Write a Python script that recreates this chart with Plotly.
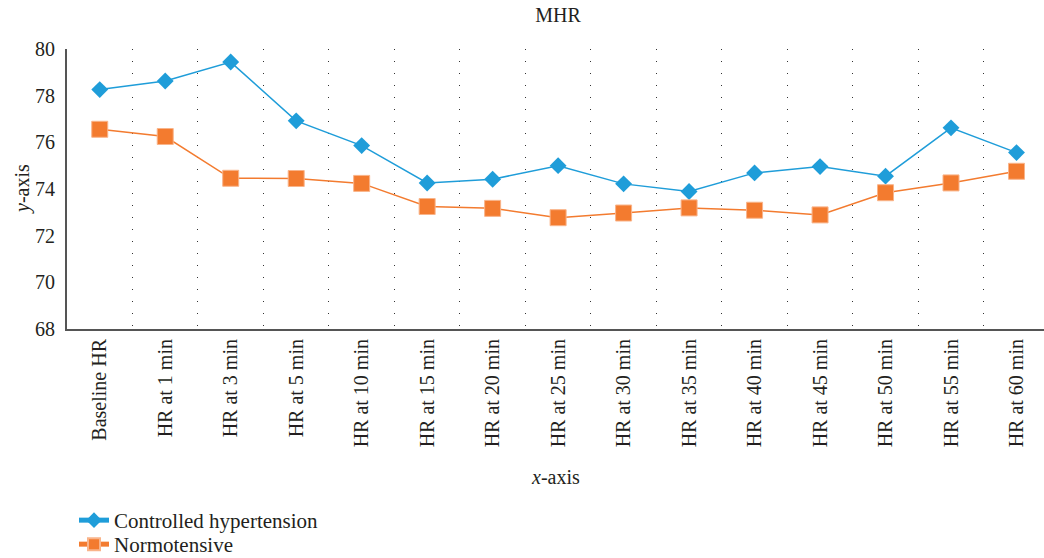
import plotly.graph_objects as go

categories = ["Baseline HR", "HR at 1 min", "HR at 3 min", "HR at 5 min", "HR at 10 min",
              "HR at 15 min", "HR at 20 min", "HR at 25 min", "HR at 30 min", "HR at 35 min",
              "HR at 40 min", "HR at 45 min", "HR at 50 min", "HR at 55 min", "HR at 60 min"]
controlled = [78.26, 78.63, 79.44, 76.92, 75.86, 74.26, 74.42, 75.0, 74.22, 73.89,
              74.69, 74.96, 74.55, 76.62, 75.56]
normotensive = [76.56, 76.25, 74.46, 74.45, 74.24, 73.25, 73.17, 72.77, 72.97, 73.19,
                73.09, 72.89, 73.84, 74.26, 74.76]
y_ticks = [68, 70, 72, 74, 76, 78, 80]

BLUE = "#1f9dd9"
ORANGE = "#f37b2f"
FONT = "Liberation Serif"
TEXT = "#231f20"

W, H = 1044, 558

fig = go.Figure()
fig.add_trace(go.Scatter(x=categories, y=controlled, name="Controlled hypertension",
                         mode="lines+markers", legend="legend",
                         line=dict(color=BLUE, width=1.5),
                         marker=dict(symbol="diamond", size=13, color=BLUE)))
fig.add_trace(go.Scatter(x=categories, y=normotensive, name="Normotensive",
                         mode="lines+markers", legend="legend2",
                         line=dict(color=ORANGE, width=1.5),
                         marker=dict(symbol="square", size=16, color=ORANGE,
                                     line=dict(color="#f9b48a", width=1))))

legend_common = dict(orientation="v", xref="container", yref="container",
                     x=74 / W, xanchor="left", yanchor="top",
                     font=dict(size=21, family=FONT, color=TEXT),
                     itemsizing="constant", bgcolor="rgba(0,0,0,0)")

fig.update_layout(
    width=W, height=H,
    margin=dict(l=67, r=0, t=49, b=229, autoexpand=False),
    paper_bgcolor="white", plot_bgcolor="white",
    font=dict(family=FONT, size=20, color=TEXT),
    title=dict(text="MHR", x=558 / W, xanchor="center", y=1 - 15 / H, yanchor="middle",
               xref="container", yref="container", font=dict(size=20, family=FONT, color=TEXT)),
    showlegend=True,
    legend=dict(y=1 - 500 / H, **legend_common),
    legend2=dict(y=1 - 524 / H, **legend_common),
    annotations=[
        dict(text="<i>x</i>-axis", xref="paper", yref="paper", x=0.5, y=-148 / 280,
             xanchor="center", yanchor="middle", showarrow=False,
             font=dict(size=20, family=FONT, color=TEXT)),
        dict(text="<i>y</i>-axis", xref="paper", yref="paper", x=-45 / 977, y=0.5,
             xanchor="center", yanchor="middle", showarrow=False, textangle=-90,
             font=dict(size=20, family=FONT, color=TEXT)),
    ],
)
fig.update_xaxes(
    type="category", range=[-0.5, 14.42], automargin=False,
    tickangle=-90, tickfont=dict(size=20),
    tickson="boundaries", ticks="", showgrid=True,
    gridcolor="#333333", griddash="1px,11px", gridwidth=1,
    showline=True, linecolor="#555555", linewidth=2,
    zeroline=False,
)
fig.update_yaxes(
    range=[68, 80], tickvals=y_ticks, tickfont=dict(size=20), automargin=False,
    showgrid=False, zeroline=False,
    showline=True, linecolor="#555555", linewidth=2,
    ticks="outside", ticklen=6, tickcolor="rgba(0,0,0,0)",
)

# remove the browser's default 8px body margin so the figure fills the window exactly
fig.write_html("out.html", config={"displayModeBar": False},
               post_script="document.body.style.margin='0';")
